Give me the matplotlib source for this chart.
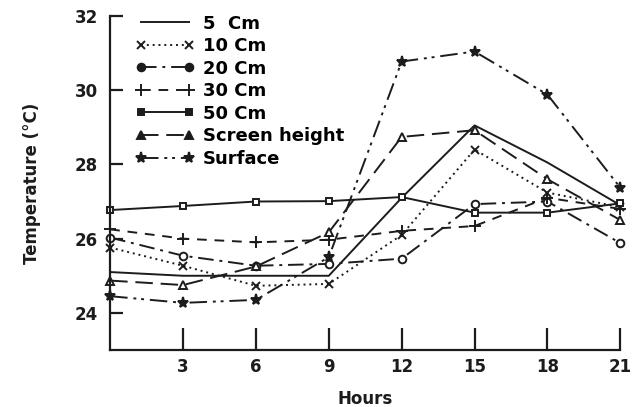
import numpy as np
import matplotlib
matplotlib.use("Agg")
import matplotlib.pyplot as plt

plt.rcParams["font.family"] = ["DejaVu Sans"]
plt.rcParams["font.weight"] = "bold"
plt.rcParams["axes.labelweight"] = "bold"

hours = [0, 3, 6, 9, 12, 15, 18, 21]

t_5cm = [25.1, 25.0, 25.0, 25.0, 27.1, 29.05, 28.05, 26.9]
t_10cm = [25.76, 25.27, 24.73, 24.78, 26.1, 28.4, 27.24, 26.85]
t_20cm = [26.03, 25.54, 25.27, 25.32, 25.46, 26.93, 27.0, 25.88]
t_30cm = [26.25, 26.0, 25.9, 25.97, 26.21, 26.34, 27.1, 26.8]
t_50cm = [26.77, 26.88, 27.0, 27.01, 27.12, 26.7, 26.7, 26.95]
t_screen = [24.87, 24.75, 25.25, 26.17, 28.74, 28.92, 27.6, 26.5]
t_surface = [24.45, 24.27, 24.35, 25.5, 30.77, 31.04, 29.88, 27.37]

labels = ["5  Cm", "10 Cm", "20 Cm", "30 Cm", "50 Cm", "Screen height", "Surface"]

ink = "#1c1c1c"

fig = plt.figure(figsize=(6.33, 4.07), dpi=100)
ax = fig.add_axes([0.174, 0.14, 0.806, 0.821])

# (series, linestyle, marker, markersize)
styles = [
    (t_5cm, "-", None, 0),
    (t_10cm, (0, (1, 2)), "x", 6),
    (t_20cm, (0, (8, 3, 1.5, 3)), "o", 5.5),
    (t_30cm, (0, (5, 4)), "+", 8),
    (t_50cm, "-", "s", 5),
    (t_screen, (0, (9, 4)), "^", 6),
    (t_surface, (0, (9, 3, 1.5, 2.5, 1.5, 3)), "*", 8),
]

for (vals, ls, mk, ms), lab in zip(styles, labels):
    ax.plot(hours, vals, color=ink, lw=1.4, linestyle=ls, marker=mk,
            markersize=ms, markeredgewidth=1.4,
            markerfacecolor="white" if mk in ("o", "s", "^") else ink,
            label=lab, clip_on=False)

ax.set_xlim(0, 21)
ax.set_ylim(23.0, 32)
ax.set_xticks([3, 6, 9, 12, 15, 18, 21])
ax.set_yticks([24, 26, 28, 30, 32])

for s in ["top", "right"]:
    ax.spines[s].set_visible(False)
for s in ["left", "bottom"]:
    ax.spines[s].set_linewidth(1.6)
    ax.spines[s].set_color(ink)

ax.tick_params(axis="y", direction="in", length=9, width=1.6, pad=9, labelsize=12, colors=ink)
ax.tick_params(axis="x", direction="in", length=16, width=1.6, pad=6, labelsize=12, colors=ink)

ax.set_xlabel("Hours", fontsize=12, color=ink, labelpad=10)
ax.set_ylabel("Temperature (\u00b0C)", fontsize=12, color=ink, labelpad=24)

leg = ax.legend(loc="upper left", bbox_to_anchor=(0.035, 1.025), frameon=False,
                fontsize=13, handlelength=3.3, handletextpad=0.45,
                labelspacing=0.25, numpoints=2, borderaxespad=0)
for h in leg.legend_handles:
    h.set_markerfacecolor(ink)

fig.savefig("out.png", dpi=100)
